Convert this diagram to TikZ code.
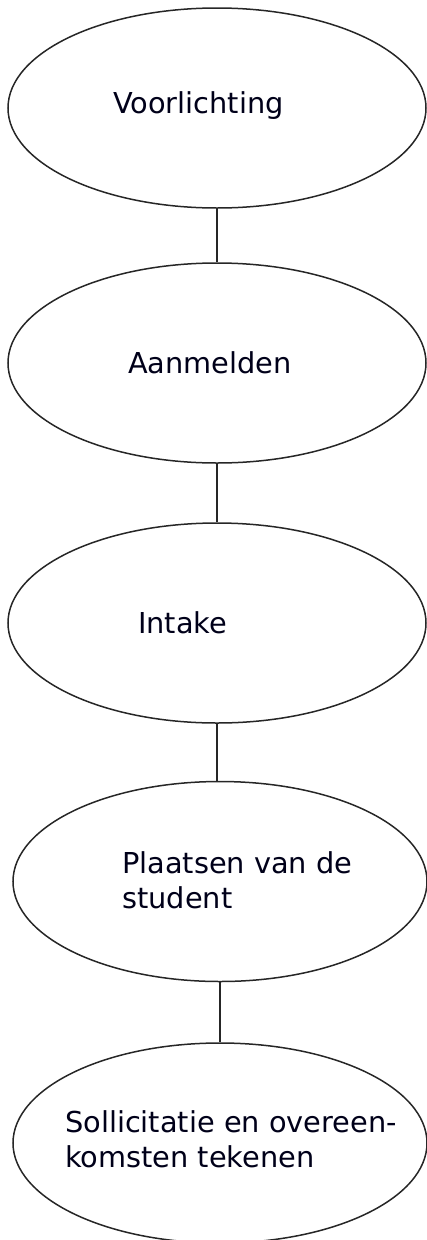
\documentclass[tikz,border=0pt]{standalone}
\usepackage{fontspec}
\setmainfont{DejaVu Sans}
\usetikzlibrary{shapes.geometric}
\begin{document}
\begin{tikzpicture}[x=1pt,y=-1pt,
  bubble/.style={draw=black!85, line width=1.5pt, ellipse, inner sep=0pt, minimum width=418pt, minimum height=200pt},
  lbl/.style={anchor=base west, inner sep=0pt, font=\fontsize{28.8}{35}\selectfont, text=black!90!blue, align=left},
  link/.style={draw=black!85, line width=1.8pt}]
\useasboundingbox (0,0) rectangle (427,1240);
\node[bubble] (e1) at (217,108) {};
\node[bubble] (e2) at (217,363) {};
\node[bubble] (e3) at (217,623) {};
\node[bubble, minimum width=414pt] (e4) at (220,881.5) {};
\node[bubble, minimum width=414pt] (e5) at (220,1143) {};
\node[lbl] (t1) at (113,113) {Voorlichting};
\node[lbl] (t2) at (128,373) {Aanmelden};
\node[lbl] (t3) at (138,633) {Intake};
\node[lbl] (t4) at (122,908) {Plaatsen van de\\student};
\node[lbl] (t5) at (65,1167) {Sollicitatie en overeen-\\komsten tekenen};
\draw[link] (e1.south) -- (e1.south |- e2.north);
\draw[link] (e2.south) -- (e2.south |- e3.north);
\draw[link] (e3.south) -- (e3.south |- e4.north);
\draw[link] (e4.south) -- (e4.south |- e5.north);
\end{tikzpicture}
\end{document}
